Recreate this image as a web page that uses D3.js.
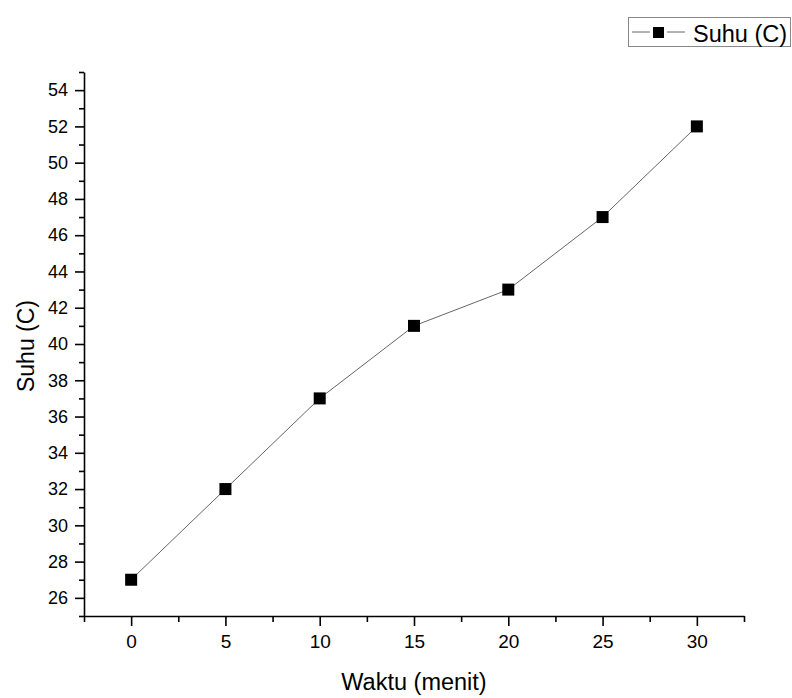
<!DOCTYPE html>
<html>
<head>
<meta charset="utf-8">
<script src="https://cdn.jsdelivr.net/npm/d3@7"></script>
<style>
  body { margin: 0; background: #fff; }
  svg { font-family: "Liberation Sans", Arial, sans-serif; }
</style>
</head>
<body>
<div id="chart"></div>
<script>
const waktu = [0, 5, 10, 15, 20, 25, 30];
const suhu = [27, 32, 37, 41, 43, 47, 52];
const xTicks = [0, 5, 10, 15, 20, 25, 30];
const yTicks = [26, 28, 30, 32, 34, 36, 38, 40, 42, 44, 46, 48, 50, 52, 54];
const seriesName = "Suhu (C)";

const W = 792, H = 698;
const plotLeft = 84, plotRight = 744, plotTop = 72, plotBottom = 616;

const svg = d3.select("#chart").append("svg")
    .attr("width", W)
    .attr("height", H);

const x = d3.scaleLinear().domain([-2.5, 32.5]).range([plotLeft, plotRight]);
const y = d3.scaleLinear().domain([25, 55]).range([plotBottom, plotTop]);

// minor ticks
const xMinor = d3.range(-2.5, 33, 2.5).filter(v => !xTicks.includes(v));
const yMinor = d3.range(25, 56, 1).filter(v => !yTicks.includes(v));

svg.append("g")
    .attr("transform", "translate(0," + plotBottom + ")")
    .call(d3.axisBottom(x).tickValues(xMinor).tickSize(6).tickFormat(""))
    .call(g => g.select(".domain").remove())
    .selectAll("line").attr("stroke-width", 1.6);

svg.append("g")
    .attr("transform", "translate(" + plotLeft + ",0)")
    .call(d3.axisLeft(y).tickValues(yMinor).tickSize(5).tickFormat(""))
    .call(g => g.select(".domain").remove())
    .selectAll("line").attr("stroke-width", 1.6);

// major axes
const xAxis = svg.append("g")
    .attr("transform", "translate(0," + plotBottom + ")")
    .call(d3.axisBottom(x).tickValues(xTicks).tickSize(10).tickSizeOuter(0).tickPadding(9));
xAxis.select(".domain").attr("stroke-width", 1.6);
xAxis.selectAll("line").attr("stroke-width", 1.6);
xAxis.selectAll("text").attr("font-size", 19).attr("fill", "#000");

const yAxis = svg.append("g")
    .attr("transform", "translate(" + plotLeft + ",0)")
    .call(d3.axisLeft(y).tickValues(yTicks).tickSize(9).tickSizeOuter(0).tickPadding(7));
yAxis.select(".domain").attr("stroke-width", 1.6);
yAxis.selectAll("line").attr("stroke-width", 1.6);
yAxis.selectAll("text").attr("font-size", 18).attr("fill", "#000");

// axis titles
svg.append("text")
    .attr("x", (plotLeft + plotRight) / 2)
    .attr("y", 690)
    .attr("text-anchor", "middle")
    .attr("font-size", 23.5)
    .text("Waktu (menit)");

svg.append("text")
    .attr("transform", "translate(34," + 346 + ") rotate(-90)")
    .attr("text-anchor", "middle")
    .attr("font-size", 23)
    .text(seriesName);

// line + markers
const data = waktu.map((w, i) => ({w: w, s: suhu[i]}));

svg.append("path")
    .datum(data)
    .attr("fill", "none")
    .attr("stroke", "#666")
    .attr("stroke-width", 1)
    .attr("d", d3.line().x(d => x(d.w)).y(d => y(d.s)));

const ms = 12;
svg.append("g")
    .selectAll("rect")
    .data(data)
    .enter()
    .append("rect")
        .attr("x", d => x(d.w) - ms / 2)
        .attr("y", d => y(d.s) - ms / 2)
        .attr("width", ms)
        .attr("height", ms)
        .attr("fill", "#000");

// legend
const lg = svg.append("g");
lg.append("rect")
    .attr("x", 628.5).attr("y", 17.5)
    .attr("width", 162).attr("height", 29)
    .attr("fill", "#fff")
    .attr("stroke", "#888")
    .attr("stroke-width", 1);
lg.append("line")
    .attr("x1", 632).attr("x2", 650)
    .attr("y1", 32).attr("y2", 32)
    .attr("stroke", "#666").attr("stroke-width", 1);
lg.append("line")
    .attr("x1", 667).attr("x2", 685)
    .attr("y1", 32).attr("y2", 32)
    .attr("stroke", "#666").attr("stroke-width", 1);
lg.append("rect")
    .attr("x", 653).attr("y", 27)
    .attr("width", 11).attr("height", 11)
    .attr("fill", "#000");
lg.append("text")
    .attr("x", 693).attr("y", 42)
    .attr("font-size", 23.5)
    .text(seriesName);
</script>
</body>
</html>
